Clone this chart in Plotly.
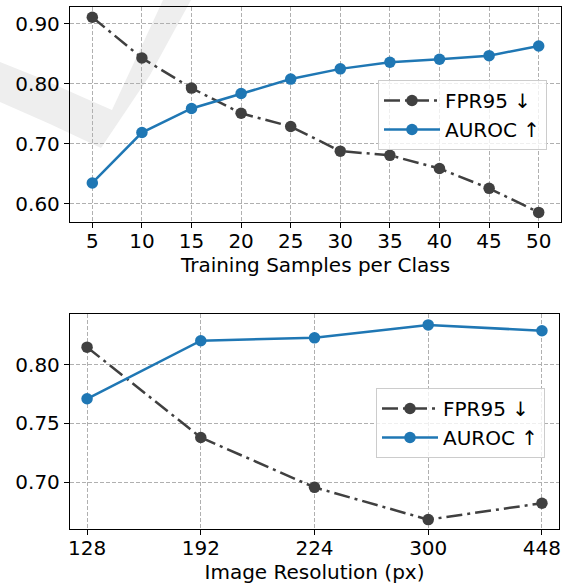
import plotly.graph_objects as go

W, H = 570, 584

# ---- data ----
samples = [5, 10, 15, 20, 25, 30, 35, 40, 45, 50]
fpr_samples = [0.911, 0.843, 0.793, 0.751, 0.729, 0.688, 0.681, 0.659, 0.626, 0.586]
auroc_samples = [0.635, 0.719, 0.759, 0.784, 0.808, 0.825, 0.836, 0.841, 0.847, 0.863]

resolutions = ["128", "192", "224", "300", "448"]
fpr_res = [0.815, 0.738, 0.6955, 0.668, 0.682]
auroc_res = [0.771, 0.8205, 0.823, 0.834, 0.829]

series_names = ["FPR95 \u2193", "AUROC \u2191"]

FONT = "DejaVu Sans"
FPR_COLOR = "#404040"
AUROC_COLOR = "#1f77b4"
DASHDOT = "16px,5px,3px,5px"

def px(x):
    return x / W

def py(y):
    return 1 - y / H

fig = go.Figure()

# top subplot
fig.add_trace(go.Scatter(x=samples, y=fpr_samples, name=series_names[0], mode="lines+markers",
                         line=dict(color=FPR_COLOR, width=2.5, dash=DASHDOT),
                         marker=dict(color=FPR_COLOR, size=11.5), xaxis="x", yaxis="y", legend="legend"))
fig.add_trace(go.Scatter(x=samples, y=auroc_samples, name=series_names[1], mode="lines+markers",
                         line=dict(color=AUROC_COLOR, width=2.5),
                         marker=dict(color=AUROC_COLOR, size=11.5), xaxis="x", yaxis="y", legend="legend"))
# bottom subplot
fig.add_trace(go.Scatter(x=resolutions, y=fpr_res, name=series_names[0], mode="lines+markers",
                         line=dict(color=FPR_COLOR, width=2.5, dash=DASHDOT),
                         marker=dict(color=FPR_COLOR, size=11.5), xaxis="x2", yaxis="y2", legend="legend2"))
fig.add_trace(go.Scatter(x=resolutions, y=auroc_res, name=series_names[1], mode="lines+markers",
                         line=dict(color=AUROC_COLOR, width=2.5),
                         marker=dict(color=AUROC_COLOR, size=11.5), xaxis="x2", yaxis="y2", legend="legend2"))

axis_common = dict(
    showgrid=True, gridcolor="#b0b0b0", griddash="4px,2px", gridwidth=1,
    showline=True, linecolor="black", linewidth=1.3, mirror=True,
    ticks="outside", ticklen=5, tickwidth=1.2, tickcolor="black",
    tickfont=dict(family=FONT, size=20, color="black"),
    zeroline=False, automargin=False,
)

legend_common = dict(
    font=dict(family=FONT, size=20, color="black"),
    bgcolor="rgba(255,255,255,0.8)", bordercolor="#cccccc", borderwidth=1,
    xanchor="left", yanchor="top", itemwidth=56, tracegroupgap=0,
)

# faint background watermark shape
wm = [(0, 62), (40, 78), (80, 96), (112, 110), (163, 0), (191, 0), (150, 75), (101, 148), (50, 124), (0, 102)]
path = "M " + " L ".join(f"{px(a):.4f},{py(b):.4f}" for a, b in wm) + " Z"

fig.update_layout(
    width=W, height=H,
    margin=dict(l=0, r=0, t=0, b=0, autoexpand=False),
    paper_bgcolor="white", plot_bgcolor="rgba(0,0,0,0)",
    font=dict(family=FONT, size=20, color="black"),
    xaxis=dict(axis_common, domain=[px(70), px(561)], anchor="y",
               range=[2.75, 52.25], tickvals=samples, ticklabelstandoff=-4,
               title=dict(text="Training Samples per Class", standoff=4,
                          font=dict(family=FONT, size=20, color="black"))),
    yaxis=dict(axis_common, domain=[py(222), py(7)], anchor="x",
               range=[0.57, 0.928], tickvals=[0.6, 0.7, 0.8, 0.9], tickformat=".2f"),
    xaxis2=dict(axis_common, domain=[px(70), px(559)], anchor="y2",
                type="category", range=[-0.15, 4.15], ticklabelstandoff=-4,
                title=dict(text="Image Resolution (px)", standoff=6,
                           font=dict(family=FONT, size=20, color="black"))),
    yaxis2=dict(axis_common, domain=[py(529), py(314)], anchor="x2",
                range=[0.66, 0.8433], tickvals=[0.70, 0.75, 0.80], tickformat=".2f"),
    legend=dict(legend_common, x=px(378), y=py(80)),
    legend2=dict(legend_common, x=px(376), y=py(388)),
    shapes=[dict(type="path", xref="paper", yref="paper", path=path,
                 fillcolor="#eeeeee", line=dict(width=0), layer="below")],
    showlegend=True,
)

fig.write_html("out.html", config={"displayModeBar": False},
               post_script="document.body.style.margin='0';")
